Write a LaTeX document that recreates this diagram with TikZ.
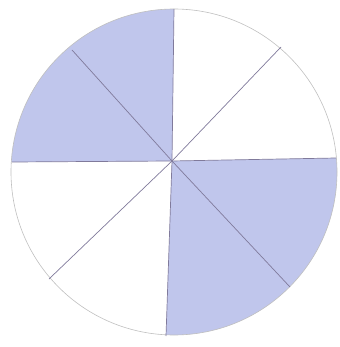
\documentclass[tikz,border=0pt]{standalone}
\usepackage{tikz}
\usetikzlibrary{calc}
\definecolor{wash}{RGB}{168,176,228}
\definecolor{pencil}{RGB}{128,122,155}
\tikzset{
  rim/.style={draw=black!25, line width=0.6pt},
  spoke/.style={draw=pencil, line width=0.7pt},
  shade/.style={fill=wash, fill opacity=0.72},
}

\begin{document}
\begin{tikzpicture}[x=1pt,y=-1pt]
\useasboundingbox (0,0) rectangle (339,347);
\coordinate (c) at (172,161);
\coordinate (m) at (174,172);
\coordinate (t) at (174,9);
\coordinate (b) at (166,336);
\coordinate (l) at (12,162);
\coordinate (r) at (336,158);
\coordinate (ul) at (72,50);
\coordinate (ur) at (281,47);
\coordinate (ll) at (49,279);
\coordinate (lr) at (290,287);
% shaded quarters
\begin{scope}
  \clip (m) circle (163);
  \fill[shade] (c) -- (l) -- (0,162) -- (0,0) -- (174,0) -- (t) -- cycle;
  \fill[shade] (c) -- (r) -- (339,158) -- (339,347) -- (166,347) -- (b) -- cycle;
\end{scope}
\draw[rim] (m) circle (163);
% spokes
\draw[spoke] (t) -- (c) -- (b);
\draw[spoke] (l) -- (c) -- (r);
\draw[spoke] (ul) -- (c) -- (lr);
\draw[spoke] (ur) -- (c) -- (ll);
\end{tikzpicture}
\end{document}
